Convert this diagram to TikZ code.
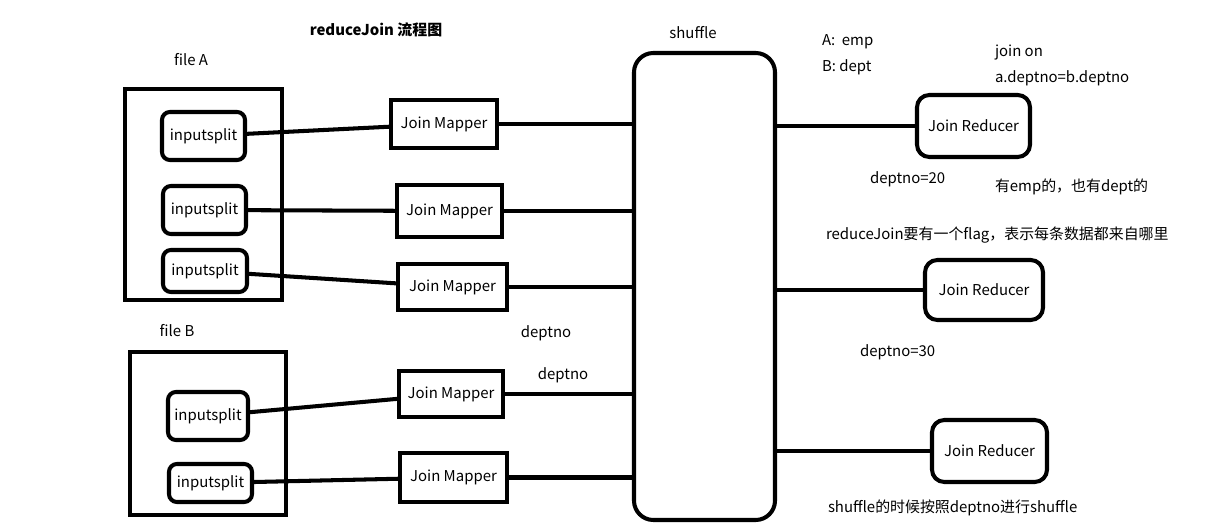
\documentclass[tikz,border=0pt]{standalone}
\usepackage{fontspec}
\setmainfont{Noto Sans CJK SC}
\usetikzlibrary{positioning}

\begin{document}
\begin{tikzpicture}[
		x=0.02cm,y=-0.02cm,
		line width=2.3pt,
		every node/.style={font=\fontsize{8.5}{10}\selectfont, inner sep=0pt, outer sep=0pt},
		filebox/.style={draw, minimum width=#1},
		split/.style={draw, rounded corners=4.5pt},
		mapper/.style={draw},
		reducer/.style={draw, rounded corners=7pt},
		note/.style={anchor=west}
		]
		
		\useasboundingbox (0,0) rectangle (1231,530);
		
		% =========================
		% Left: input files and splits
		% =========================
		\node[font=\fontsize{8.5}{10}\selectfont\bfseries] (title) at (376,30) {reduceJoin 流程图};
		\node (labA) at (191,60) {file A};
		\node (labB) at (177,331) {file B};
		
		\node[draw, minimum width=157*0.02cm, minimum height=211*0.02cm] (fileA) at (203.5,194.5) {};
		\node[split, minimum width=83*0.02cm, minimum height=48*0.02cm] (splitA1) at (203.5,136) {inputsplit};
		\node[split, minimum width=83*0.02cm, minimum height=48*0.02cm] (splitA2) at (204.5,210) {inputsplit};
		\node[split, minimum width=84*0.02cm, minimum height=42*0.02cm] (splitA3) at (205,271) {inputsplit};
		
		\node[draw, minimum width=156*0.02cm, minimum height=163*0.02cm] (fileB) at (208,433.5) {};
		\node[split, minimum width=80*0.02cm, minimum height=48*0.02cm] (splitB1) at (208,416) {inputsplit};
		\node[split, minimum width=83*0.02cm, minimum height=38*0.02cm] (splitB2) at (210.5,483) {inputsplit};
		
		% =========================
		% Middle: mappers and shuffle
		% =========================
		\node[mapper, minimum width=106*0.02cm, minimum height=48*0.02cm] (mapA1) at (444,124) {Join Mapper};
		\node[mapper, minimum width=105*0.02cm, minimum height=52*0.02cm] (mapA2) at (449.5,211) {Join Mapper};
		\node[mapper, minimum width=109*0.02cm, minimum height=46*0.02cm] (mapA3) at (452.5,287) {Join Mapper};
		\node[mapper, minimum width=104*0.02cm, minimum height=46*0.02cm] (mapB1) at (451,394) {Join Mapper};
		\node[mapper, minimum width=107*0.02cm, minimum height=49*0.02cm] (mapB2) at (453.5,477.5) {Join Mapper};
		
		\node (key1) at (546,333) {deptno};
		\node (key2) at (563,375) {deptno};
		
		\node[draw, rounded corners=11pt, minimum width=141*0.02cm, minimum height=467*0.02cm] (shuffle) at (704.5,286.5) {};
		\node (labS) at (693,33) {shuffle};
		
		\draw (splitA1) -- (mapA1);
		\draw (splitA2) -- (mapA2);
		\draw (splitA3) -- (mapA3);
		\draw (splitB1) -- (mapB1);
		\draw (splitB2) -- (mapB2);
		
		\draw (mapA1.east) -- (mapA1.east -| shuffle.west);
		\draw (mapA2.east) -- (mapA2.east -| shuffle.west);
		\draw (mapA3.east) -- (mapA3.east -| shuffle.west);
		\draw (mapB1.east) -- (mapB1.east -| shuffle.west);
		\draw (mapB2.east) -- (mapB2.east -| shuffle.west);
		
		% =========================
		% Right: reducers and notes
		% =========================
		\node[reducer, minimum width=113*0.02cm, minimum height=62*0.02cm] (red1) at (973.5,126) {Join Reducer};
		\node[reducer, minimum width=118*0.02cm, minimum height=60*0.02cm] (red2) at (984,290) {Join Reducer};
		\node[reducer, minimum width=115*0.02cm, minimum height=62*0.02cm] (red3) at (989.5,451) {Join Reducer};
		
		\draw (shuffle.east |- red1.west) -- (red1.west);
		\draw (shuffle.east |- red2.west) -- (red2.west);
		\draw (shuffle.east |- red3.west) -- (red3.west);
		
		\node[note] (tabA) at (822,42) {A:~ emp};
		\node[note] (tabB) at (822,67) {B: dept};
		\node[note] (cond1) at (995,53) {join on};
		\node[note] (cond2) at (995,78) {a.deptno=b.deptno};
		\node[note] (val20) at (870,179) {deptno=20};
		\node[note] (both) at (995,187) {有emp的，也有dept的};
		\node[note] (flag) at (826,235) {reduceJoin要有一个flag，表示每条数据都来自哪里};
		\node[note] (val30) at (860,352) {deptno=30};
		\node[note] (part) at (828,508) {shuffle的时候按照deptno进行shuffle};
		
	\end{tikzpicture}
\end{document}
